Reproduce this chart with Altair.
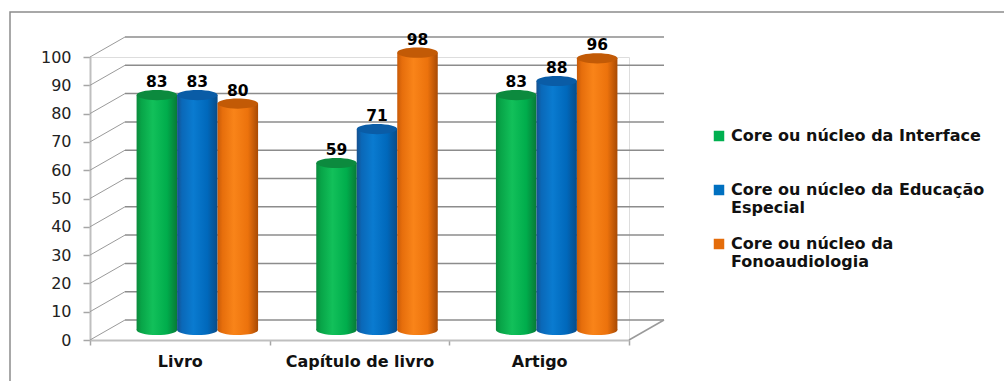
import altair as alt
import pandas as pd

# --- data -------------------------------------------------------------
categories = ["Livro", "Capítulo de livro", "Artigo"]
series = [
    "Core ou núcleo da Interface",
    "Core ou núcleo da Educação Especial",
    "Core ou núcleo da Fonoaudiologia",
]
interface = [83, 59, 83]
educacao = [83, 71, 88]
fono = [80, 98, 96]
y_ticks = [0, 10, 20, 30, 40, 50, 60, 70, 80, 90, 100]

# legend labels broken over lines
legend_lines = {
    series[0]: ["Core ou núcleo da Interface"],
    series[1]: ["Core ou núcleo da Educação", "Especial"],
    series[2]: ["Core ou núcleo da", "Fonoaudiologia"],
}

# --- styling ----------------------------------------------------------
W, H = 539, 283          # plot area (front face of the 3D box)
DX, DY = 35, -20         # depth of the box in pixels
BAR_W = 40.5
FONT = "DejaVu Sans"

legend_colors = ["#00b050", "#0070c0", "#e46c0a"]
top_colors = ["#0c8a3e", "#0a5ca6", "#c25a06"]


def cyl(stops):
    return alt.Gradient(
        gradient="linear", x1=0, x2=1, y1=0, y2=0,
        stops=[alt.GradientStop(offset=o, color=c) for o, c in stops],
    )


gradients = [
    cyl([(0, "#0b8a3c"), (0.12, "#08a548"), (0.4, "#12c05a"), (0.75, "#00ad4c"), (1, "#087a36")]),
    cyl([(0, "#17508e"), (0.12, "#0a68b8"), (0.4, "#0a7bd0"), (0.75, "#0068bb"), (1, "#0a4c88")]),
    cyl([(0, "#c85a08"), (0.12, "#e66e0c"), (0.4, "#f98419"), (0.75, "#ec720c"), (1, "#a84a04")]),
]

values = [interface, educacao, fono]
rows = []
for s, vals in zip(series, values):
    for c, v in zip(categories, vals):
        rows.append({"categoria": c, "serie": s, "valor": v})
df = pd.DataFrame(rows)
ticks_df = pd.DataFrame({"t": y_ticks})

x_enc = alt.X(
    "categoria:N",
    sort=categories,
    scale=alt.Scale(domain=categories, paddingInner=0, paddingOuter=0),
    axis=alt.Axis(
        title=None, labelAngle=0, tickBand="extent", tickSize=5,
        tickColor="#a6a6a6", tickWidth=1.5, domainColor="#bfbfbf", domainWidth=2,
        labelFont=FONT, labelFontSize=16, labelFontWeight="bold", labelColor="#111",
        labelPadding=8,
    ),
)

y_scale = alt.Scale(domain=[0, 100], nice=False)
y_axis = alt.Axis(
    title=None, values=y_ticks, tickSize=7, tickColor="#a6a6a6", tickWidth=1.5,
    domainColor="#bfbfbf", domainWidth=2, grid=False, labelOverlap=False,
    labelFont=FONT, labelFontSize=16, labelColor="#222", labelPadding=12,
)


def y_of(field):
    return alt.Y(field, scale=y_scale, axis=y_axis)


# the three cylinders of a group sit half-way into the box
off_start = W / len(categories) / 2 + DX / 2 - 1.5 * BAR_W
xoff_enc = alt.XOffset(
    "serie:N",
    sort=series,
    scale=alt.Scale(domain=series, range=[off_start, off_start + 3 * BAR_W],
                    paddingInner=0, paddingOuter=0),
)

# back wall gridlines
back_grid = alt.Chart(ticks_df).mark_rule(
    color="#8c8c8c", strokeWidth=1.5, xOffset=DX, x2Offset=DX, yOffset=DY
).encode(x=alt.value(0), x2=alt.value(W), y=y_of("t:Q"))

# side-wall diagonals from the value axis to the back wall
diagonals = alt.Chart(ticks_df).mark_rule(
    color="#9a9a9a", strokeWidth=1, x2Offset=DX, y2Offset=DY
).encode(x=alt.value(0), x2=alt.value(0), y=y_of("t:Q"), y2="t:Q")

# right edge of the floor
floor_edge = alt.Chart(pd.DataFrame({"t": [0]})).mark_rule(
    color="#9a9a9a", strokeWidth=1.5, x2Offset=DX, y2Offset=DY
).encode(x=alt.value(W), x2=alt.value(W), y=y_of("t:Q"), y2="t:Q")

# outer frame of the chart
frame = alt.Chart(pd.DataFrame({"k": [0]})).mark_rect(
    fill="transparent", stroke="#8c8c8c", strokeWidth=1.5
).encode(
    x=alt.value(-80), x2=alt.value(W + 380), y=alt.value(-45), y2=alt.value(H + 60)
)

ELLIPSE = "M-1,0A1,0.25,0,1,1,1,0A1,0.25,0,1,1,-1,0Z"
SIZE = BAR_W * BAR_W

layers = [back_grid, diagonals, floor_edge, frame]
for s, grad, top in zip(series, gradients, top_colors):
    base = alt.Chart(df).transform_filter(alt.datum.serie == s)
    bottom = base.mark_point(
        shape=ELLIPSE, size=SIZE, filled=True, fill=grad, opacity=1, strokeWidth=0,
        yOffset=DY / 2,
    ).encode(
        x=x_enc, xOffset=xoff_enc,
        y=alt.YDatum(0, scale=y_scale, axis=y_axis),
    )
    body = base.mark_bar(fill=grad, yOffset=DY / 2, y2Offset=DY / 2).encode(
        x=x_enc, xOffset=xoff_enc, y=y_of("valor:Q")
    )
    cap = base.mark_point(
        shape=ELLIPSE, size=SIZE, filled=True, fill=top, opacity=1, strokeWidth=0,
        yOffset=DY / 2,
    ).encode(x=x_enc, xOffset=xoff_enc, y=y_of("valor:Q"))
    label = base.mark_text(
        font=FONT, fontSize=15.5, fontWeight="bold", color="#000",
        baseline="bottom", yOffset=DY / 2 - 5,
    ).encode(x=x_enc, xOffset=xoff_enc, y=y_of("valor:Q"), text="valor:Q")
    layers += [bottom, body, cap, label]

label_expr = " : ".join(
    f"datum.label == '{k}' ? {v!r}" for k, v in legend_lines.items()
) + " : datum.label"

legend_layer = alt.Chart(df).mark_point(opacity=0, size=0, filled=True).encode(
    x=x_enc, xOffset=xoff_enc, y=y_of("valor:Q"),
    color=alt.Color(
        "serie:N",
        sort=series,
        scale=alt.Scale(domain=series, range=legend_colors),
        legend=alt.Legend(
            title=None, orient="none", legendX=621, legendY=71,
            symbolType="square", symbolSize=110, symbolOpacity=1, symbolStrokeWidth=0,
            labelFont=FONT, labelFontSize=16, labelFontWeight="bold", labelColor="#111",
            labelLimit=400, rowPadding=20, labelOffset=4, gridAlign="all",
            labelExpr=label_expr,
        ),
    ),
)
layers.append(legend_layer)

chart = alt.layer(*layers).properties(
    width=W, height=H,
    autosize=alt.AutoSizeParams(type="none"),
    padding={"left": 90, "top": 57, "right": 1004 - 90 - W, "bottom": 381 - 57 - H},
).configure_view(stroke=None).configure(background="white")

chart.save("out.html", embed_options={"renderer": "svg", "actions": False})
